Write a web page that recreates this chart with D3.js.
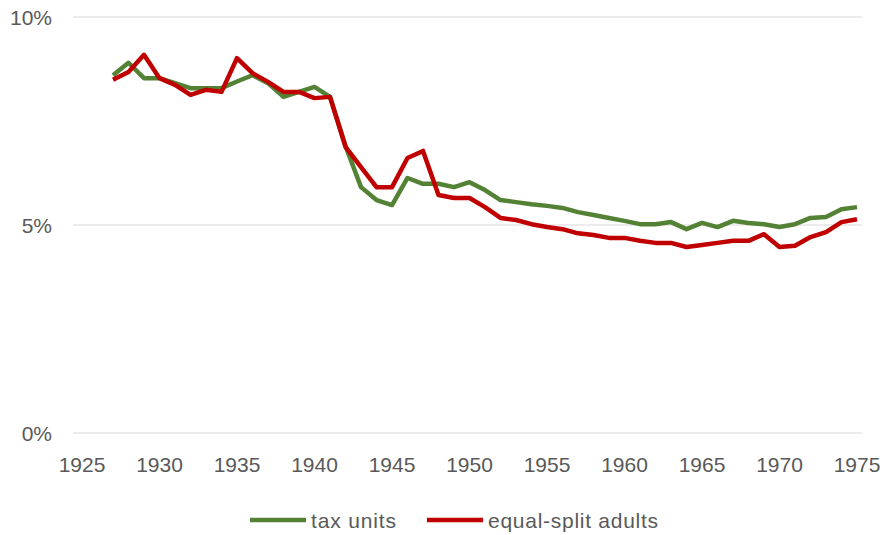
<!DOCTYPE html>
<html>
<head>
<meta charset="utf-8">
<script src="https://cdn.jsdelivr.net/npm/d3@7"></script>
<style>
  body { margin: 0; background: #fff; }
  text { font-family: "Liberation Sans", Arial, sans-serif; fill: #595959; }
</style>
</head>
<body>
<script>
const m = { width: 883, height: 535 }

// top income share, percent
const years = d3.range(1927, 1976)
const taxUnits = [8.6, 8.9, 8.53, 8.53, 8.41, 8.29, 8.29, 8.29, 8.45, 8.6,
    8.41, 8.08, 8.2, 8.32, 8.08, 6.9, 5.91, 5.6, 5.48, 6.13,
    5.99, 5.99, 5.91, 6.03, 5.84, 5.6, 5.55, 5.5, 5.46, 5.41,
    5.31, 5.24, 5.17, 5.1, 5.02, 5.02, 5.07, 4.9, 5.05, 4.95,
    5.1, 5.05, 5.02, 4.95, 5.02, 5.17, 5.19, 5.38, 5.43]
const equalSplit = [8.49, 8.68, 9.09, 8.53, 8.37, 8.13, 8.25, 8.2, 9.01, 8.65,
    8.44, 8.2, 8.2, 8.05, 8.08, 6.88, 6.39, 5.91, 5.91, 6.61,
    6.78, 5.72, 5.65, 5.65, 5.43, 5.17, 5.12, 5.02, 4.95, 4.9,
    4.8, 4.76, 4.69, 4.69, 4.62, 4.57, 4.57, 4.47, 4.52, 4.57,
    4.62, 4.62, 4.78, 4.47, 4.5, 4.71, 4.83, 5.07, 5.14]
const xTicks = d3.range(1925, 1976, 5)
const yTicks = [0, 5, 10]
const seriesNames = ["tax units", "equal-split adults"]
const seriesColors = ["#548235", "#c00000"]

const svg = d3.select("body").append("svg")
    .attr("width", m.width)
    .attr("height", m.height)

const x = d3.scaleLinear().domain([1925, 1975]).range([82, 857])
const y = d3.scaleLinear().domain([0, 10]).range([433, 17])

// gridlines
svg.append("g").selectAll("line")
    .data(yTicks)
    .enter()
    .append("line")
    .attr("x1", 73).attr("x2", 862)
    .attr("y1", d => y(d)).attr("y2", d => y(d))
    .attr("stroke", "#d9d9d9")
    .attr("stroke-width", 1)

// y labels
svg.append("g").selectAll("text")
    .data(yTicks)
    .enter()
    .append("text")
    .attr("x", 52)
    .attr("y", d => y(d))
    .attr("dy", "0.36em")
    .attr("text-anchor", "end")
    .attr("font-size", 21)
    .text(d => d + "%")

// x labels
svg.append("g").selectAll("text")
    .data(xTicks)
    .enter()
    .append("text")
    .attr("x", d => x(d))
    .attr("y", 472)
    .attr("text-anchor", "middle")
    .attr("font-size", 21)
    .text(d => d)

const line = d3.line()
    .x((d, i) => x(years[i]))
    .y(d => y(d))

svg.selectAll(".series")
    .data([taxUnits, equalSplit])
    .enter()
    .append("path")
    .attr("class", "series")
    .attr("fill", "none")
    .attr("stroke", (d, i) => seriesColors[i])
    .attr("stroke-width", 4.5)
    .attr("stroke-linejoin", "round")
    .attr("d", line)

// legend
const legendX = [250, 427]
const legend = svg.selectAll(".legend")
    .data(seriesNames)
    .enter()
    .append("g")
    .attr("class", "legend")
    .attr("transform", (d, i) => "translate(" + legendX[i] + ",520)")

legend.append("line")
    .attr("x1", 0).attr("x2", 56)
    .attr("stroke", (d, i) => seriesColors[i])
    .attr("stroke-width", 4.5)

legend.append("text")
    .attr("x", 61)
    .attr("dy", "0.36em")
    .attr("font-size", 21)
    .attr("textLength", (d, i) => [85, 170][i])
    .text(d => d)
</script>
</body>
</html>
